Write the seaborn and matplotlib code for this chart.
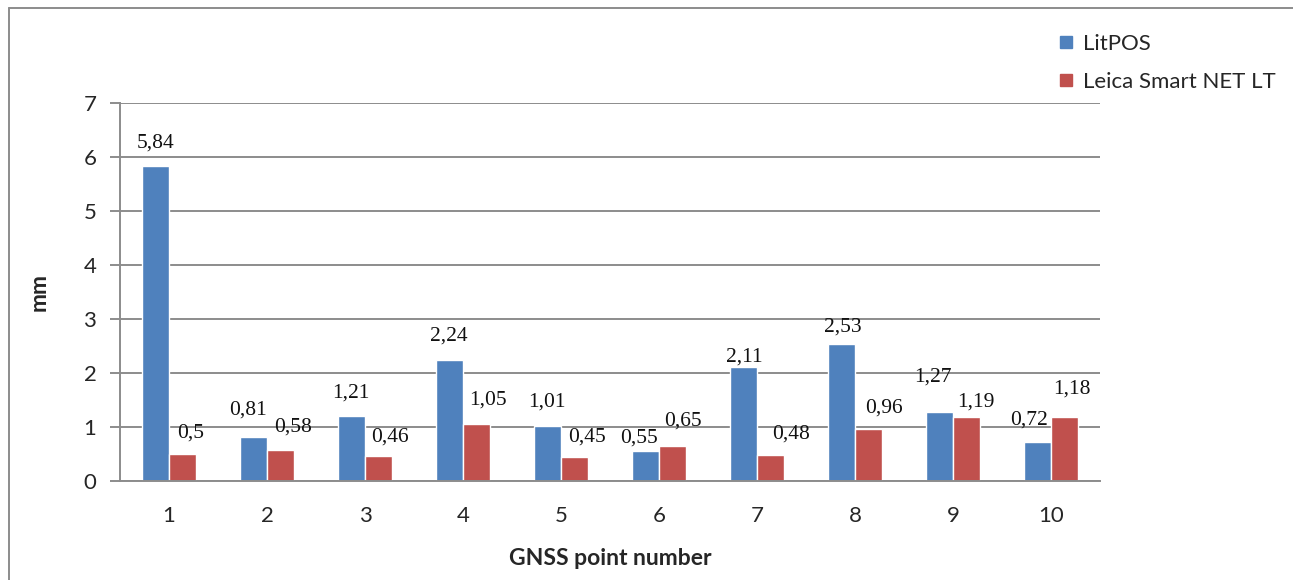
import matplotlib
matplotlib.use("Agg")
import matplotlib.pyplot as plt
from matplotlib.lines import Line2D
import seaborn as sns
import pandas as pd

points = [str(i) for i in range(1, 11)]
litpos = [5.84, 0.81, 1.21, 2.24, 1.01, 0.55, 2.11, 2.53, 1.27, 0.72]
leica = [0.50, 0.58, 0.46, 1.05, 0.45, 0.65, 0.48, 0.96, 1.19, 1.18]
series_names = ["LitPOS", "Leica Smart NET LT"]
colors = ["#4F81BD", "#C0504D"]

# per-label nudges (dx, dy) in pixels so neighbouring labels stay readable
nudge_litpos = [(0, 0), (-5, 4), (0, 0), (0, 1), (0, 1),
                (-6, -10), (1, -13), (2, -6), (-6, 12), (-8, -1)]
nudge_leica = [(8, -2), (12, 0), (11, -4), (11, 1), (12, -3),
               (10, 2), (20, -2), (15, -2), (9, -8), (7, 5)]

df = pd.DataFrame({
    "point": points * 2,
    "value": litpos + leica,
    "series": [series_names[0]] * len(points) + [series_names[1]] * len(points),
})

sns.set_theme(style="white")
plt.rcParams["font.family"] = ["Lato", "DejaVu Sans"]

fig = plt.figure(figsize=(12.93, 5.80), dpi=100)
ax = fig.add_axes([0.0928, 0.1707, 0.7579, 0.6517])

sns.barplot(data=df, x="point", y="value", hue="series", order=points,
            hue_order=series_names, palette=colors, width=0.56,
            edgecolor="white", linewidth=1.0, saturation=1, ax=ax,
            legend=False)

ax.set_ylim(0, 7)
ax.set_yticks(range(0, 8))
ax.set_xlim(-0.5, len(points) - 0.5)
ax.grid(axis="y", color="#8c8c8c", linewidth=1.4)
ax.grid(axis="x", visible=False)
ax.set_axisbelow(True)
for s in ["top", "right"]:
    ax.spines[s].set_visible(False)
ax.spines["left"].set_color("#8c8c8c")
ax.spines["left"].set_linewidth(1.4)
ax.spines["bottom"].set_color("#8c8c8c")
ax.spines["bottom"].set_linewidth(1.4)
ax.tick_params(axis="y", which="major", left=True, length=7, width=1.4,
               color="#8c8c8c", labelsize=16, pad=10)
ax.tick_params(axis="x", bottom=False, labelsize=16, pad=12)

ax.set_ylabel("mm", fontsize=16.5, fontweight="bold", labelpad=24)
ax.set_xlabel("GNSS point number", fontsize=16.5, fontweight="bold", labelpad=16)

# value labels with decimal comma, placed above each bar
px = 72 / fig.dpi
for container, nudges in zip(ax.containers, [nudge_litpos, nudge_leica]):
    for bar, (dx, dy) in zip(container, nudges):
        h = bar.get_height()
        ax.annotate(f"{h:g}".replace(".", ","),
                    xy=(bar.get_x() + bar.get_width() / 2, h),
                    xytext=(dx * px, (23 + dy) * px), textcoords="offset points",
                    ha="center", va="center", fontsize=15.5,
                    family="Liberation Serif", color="#111111")

handles = [Line2D([], [], marker="s", linestyle="none", markersize=8,
                  markerfacecolor=c, markeredgecolor=c) for c in colors]
fig.legend(handles, series_names, loc="upper left",
           bbox_to_anchor=(1046 / 1293, 1 - 25 / 580), frameon=False,
           fontsize=16, handletextpad=0.25, labelspacing=0.8,
           handlelength=1.0, borderaxespad=0)

# partial frame around the chart area
fig.add_artist(Line2D([9 / 1293, 1.0], [1 - 8 / 580, 1 - 8 / 580],
                      transform=fig.transFigure, color="#8c8c8c", linewidth=1.4))
fig.add_artist(Line2D([9 / 1293, 9 / 1293], [0.0, 1 - 8 / 580],
                      transform=fig.transFigure, color="#8c8c8c", linewidth=1.4))

fig.savefig("out.png", dpi=100)
